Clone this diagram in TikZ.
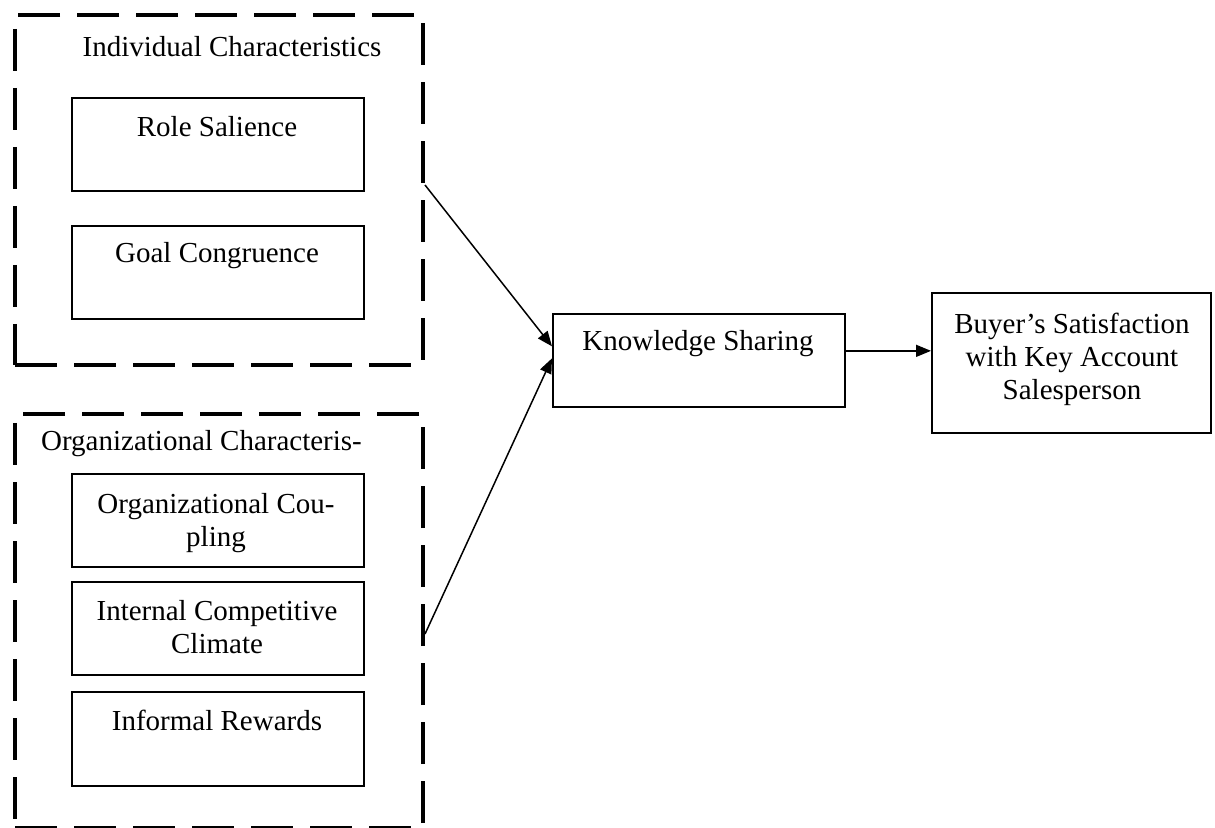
\documentclass[tikz,border=0pt]{standalone}
\usepackage{fontspec}
\setmainfont{Liberation Serif}
\usetikzlibrary{arrows.meta,calc}
\begin{document}
\begin{tikzpicture}[x=0.5pt,y=-0.5pt,
  every node/.style={font=\fontsize{14.5}{16.5}\selectfont},
  group/.style={draw, line width=2pt, dash pattern=on 21pt off 8.5pt, inner sep=0pt, anchor=north west, minimum width=204pt},
  box/.style={draw, line width=0.85pt, inner sep=0pt, anchor=north west, minimum width=146pt, minimum height=46.5pt},
  lbl/.style={anchor=north, inner sep=0pt, align=center},
  conn/.style={line width=0.75pt, -{Triangle[length=7.5pt,width=6pt]}}]
\useasboundingbox (0,0) rectangle (1215,828);
% groups
\node[group, minimum height=175pt] (ind) at (13,13) {};
\node[group, minimum height=207pt] (org) at (13,412) {};
% inner boxes
\node[box] (rs) at (71,97) {};
\node[box] (gc) at (71,225) {};
\node[box] (oc) at (71,473) {};
\node[box] (icc) at (71,581) {};
\node[box, minimum height=47pt] (ir) at (71,691) {};
\node[box] (ks) at (552,313) {};
\node[box, minimum width=139.5pt, minimum height=70pt] (buy) at (931,292) {};
% labels
\node[lbl] (indl) at (232,36) {Individual Characteristics};
\node[lbl] (rsl) at (217,116) {Role Salience};
\node[lbl] (gcl) at (217,242) {Goal Congruence};
\node[lbl] (orgl) at (201.5,430) {Organizational Characteris-};
\node[lbl] (ocl) at (216,493) {Organizational Cou-\\pling};
\node[lbl] (iccl) at (217,600) {Internal Competitive\\Climate};
\node[lbl] (irl) at (217,710) {Informal Rewards};
\node[lbl] (ksl) at (698,330) {Knowledge Sharing};
\node[lbl] (buyl) at (1072,313) {Buyer’s Satisfaction\\with Key Account\\Salesperson};
% connectors
\draw[conn] ($(ind.east)+(0,-5)$) -- ($(ks.west)+(0,-14)$);
\draw[conn] ($(org.east)+(0,13)$) -- ($(ks.west)+(0,-2)$);
\coordinate (a3) at ($(ks.east)+(0,-9.5)$);
\draw[conn] (a3) -- (a3 -| buy.west);
\end{tikzpicture}
\end{document}
